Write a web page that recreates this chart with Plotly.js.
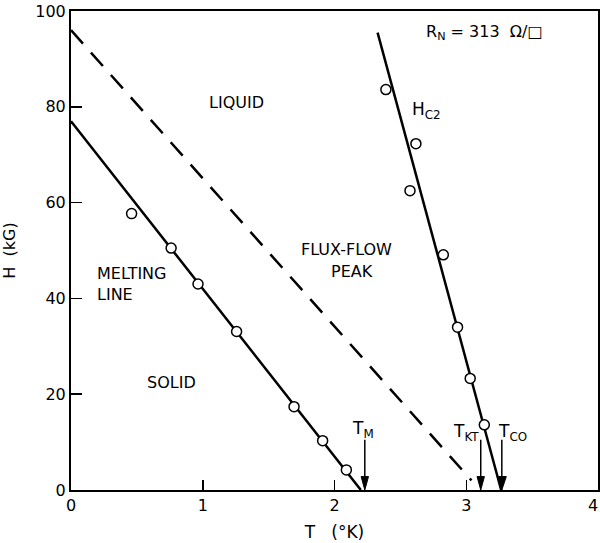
<!DOCTYPE html>
<html>
<head>
<meta charset="utf-8">
<script src="https://cdn.plot.ly/plotly-3.0.1.min.js"></script>
<style>html,body{margin:0;padding:0;background:#fff;}#chart{width:600px;height:543px;}</style>
</head>
<body>
<div id="chart"></div>
<script>
// Melting-line data points
var meltT = [0.46, 0.76, 0.964, 1.257, 1.693, 1.91, 2.09];
var meltH = [57.7, 50.5, 43.0, 33.1, 17.4, 10.3, 4.2];
// Hc2 data points
var hc2T = [2.39, 2.618, 2.573, 2.826, 2.934, 3.03, 3.137];
var hc2H = [83.6, 72.3, 62.5, 49.1, 34.0, 23.3, 13.6];
// Fitted lines
var meltLineT = [0, 2.2];
var meltLineH = [77, 0];
var dashLineT = [0, 3.04];
var dashLineH = [96, 2];
var hc2LineT = [2.327, 3.265];
var hc2LineH = [95.5, 0];
// Characteristic temperatures
var markT = [2.23, 3.11, 3.27];
var markLabels = ['T<sub>M</sub>', 'T<sub>KT</sub>', 'T<sub>CO</sub>'];
var xTicks = [0, 1, 2, 3, 4];
var yTicks = [0, 20, 40, 60, 80, 100];

var F = 'DejaVu Sans, Liberation Sans, sans-serif';
var traces = [
  {x: meltLineT, y: meltLineH, mode: 'lines', line: {color: '#000', width: 2.5}, hoverinfo: 'skip'},
  {x: dashLineT, y: dashLineH, mode: 'lines', line: {color: '#000', width: 2.5, dash: '18px,12px'}, hoverinfo: 'skip'},
  {x: hc2LineT, y: hc2LineH, mode: 'lines', line: {color: '#000', width: 2.5}, hoverinfo: 'skip'},
  {x: meltT, y: meltH, mode: 'markers', marker: {symbol: 'circle', size: 10, color: '#fff', line: {color: '#000', width: 1.5}}, cliponaxis: false},
  {x: hc2T, y: hc2H, mode: 'markers', marker: {symbol: 'circle', size: 10, color: '#fff', line: {color: '#000', width: 1.5}}, cliponaxis: false}
];

var ann = [];
function txt(x, y, t, size, anchor) {
  ann.push({x: x, y: y, xref: 'x', yref: 'y', text: t, showarrow: false,
    font: {family: F, size: size || 16, color: '#000'}, xanchor: anchor || 'center', yanchor: 'middle'});
}
txt(1.035, 80.9, 'LIQUID', 16, 'left');
txt(1.733, 50.2, 'FLUX-FLOW', 16, 'left');
txt(1.96, 45.6, 'PEAK', 16, 'left');
txt(0.18, 45.2, 'MELTING', 16, 'left');
txt(0.18, 40.8, 'LINE', 16, 'left');
txt(0.56, 22.4, 'SOLID', 16, 'left');
txt(2.57, 79.3, 'H<sub>C2</sub>', 17, 'left');
txt(2.68, 95.5, 'R<sub>N</sub> = 313  Ω/□', 16, 'left');
txt(2.22, 12.7, markLabels[0], 17, 'center');
txt(3.0, 12.0, markLabels[1], 17, 'center');
txt(3.35, 12.0, markLabels[2], 17, 'center');
// last x tick label sits on the right edge
ann.push({x: 4, y: 0, xref: 'x', yref: 'y', text: String(xTicks[4]), showarrow: false, xanchor: 'right', yanchor: 'top',
  yshift: -4, xshift: 2, font: {family: F, size: 16, color: '#000'}});

// arrows pointing down to the characteristic temperatures
var shapes = [];
for (var i = 0; i < markT.length; i++) {
  var t = markT[i];
  var hw = i === 2 ? 0.034 : 0.028;
  shapes.push({type: 'line', xref: 'x', yref: 'y', x0: t, x1: t, y0: 10.5, y1: 2, line: {color: '#000', width: 1.5}});
  shapes.push({type: 'path', xref: 'x', yref: 'y', path: 'M' + (t - hw) + ',2.8 L' + (t + hw) + ',2.8 L' + t + ',0 Z',
    fillcolor: '#000', line: {color: '#000', width: 1}});
}

var layout = {
  width: 600, height: 543,
  margin: {l: 71, r: 2, t: 11, b: 53},
  paper_bgcolor: '#fff', plot_bgcolor: '#fff',
  showlegend: false,
  font: {family: F, size: 16, color: '#000'},
  xaxis: {range: [0, 4], tickvals: xTicks, ticktext: xTicks.map(String), ticks: 'inside', ticklen: 10, tickwidth: 1.5,
    tickcolor: '#000', showline: true, linewidth: 2, linecolor: '#000', mirror: true, showgrid: false, zeroline: false,
    tickfont: {family: F, size: 16}, title: {text: 'T   (°K)', font: {family: F, size: 17}, standoff: 12}},
  yaxis: {range: [0, 100], tickvals: yTicks, ticktext: yTicks.map(String), ticks: 'inside', ticklen: 11, tickwidth: 1.5,
    tickcolor: '#000', showline: true, linewidth: 2, linecolor: '#000', mirror: true, showgrid: false, zeroline: false,
    tickfont: {family: F, size: 16}, title: {text: 'H  (kG)', font: {family: F, size: 16}, standoff: 16}},
  annotations: ann,
  shapes: shapes
};
Plotly.newPlot('chart', traces, layout, {staticPlot: true});
</script>
</body>
</html>
